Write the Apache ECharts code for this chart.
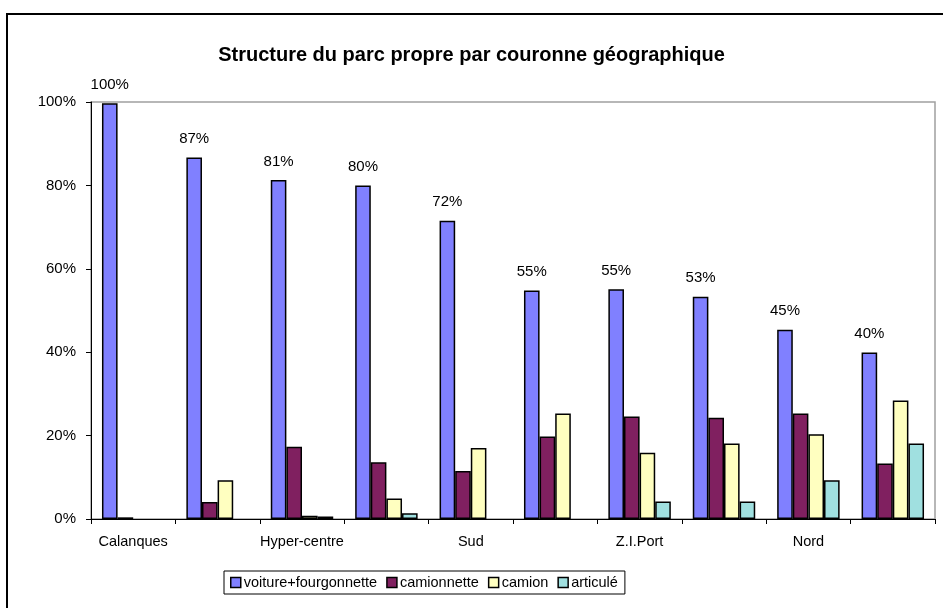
<!DOCTYPE html>
<html>
<head>
<meta charset="utf-8">
<script src="https://cdn.jsdelivr.net/npm/echarts@6/dist/echarts.min.js"></script>
<style>
  html, body { margin: 0; padding: 0; background: #fff; }
  #chart { width: 943px; height: 608px; }
</style>
</head>
<body>
<div id="chart"></div>
<script>
// couronnes (only every other one is labelled on the axis)
const categories = ['Calanques', '', 'Hyper-centre', '', 'Sud', '', 'Z.I.Port', '', 'Nord', '']
const seriesNames = ['voiture+fourgonnette', 'camionnette', 'camion', 'articulé']

// shares in %
const voitureFourgonnette = [99.7, 86.7, 81.3, 80.0, 71.5, 54.8, 55.1, 53.3, 45.4, 39.9]
const camionnette = [0.4, 4.1, 17.3, 13.6, 11.5, 19.8, 24.6, 24.3, 25.3, 13.3]
const camion = [0, 9.3, 0.8, 4.9, 17.0, 25.3, 15.9, 18.1, 20.3, 28.4]
const articule = [0, 0, 0.6, 1.4, 0, 0, 4.2, 4.2, 9.3, 18.1]

const yTicks = [0, 20, 40, 60, 80, 100]

const colors = ['#8080ff', '#802060', '#ffffc0', '#a0e0e0']
const font = 'Arial, "Liberation Sans", sans-serif'

const chart = echarts.init(document.getElementById('chart'))

// zero shares get no bar at all (Excel draws nothing there)
const makeSeries = (name, data, idx) => ({
  name: name,
  type: 'bar',
  data: data.map(v => (v === 0 ? '-' : v)),
  barGap: '0%',
  barCategoryGap: '26%',
  itemStyle: {
    color: colors[idx],
    borderColor: '#000',
    borderWidth: 1.5
  },
  label: {
    show: idx === 0,
    position: 'top',
    distance: 11,
    color: '#000',
    fontFamily: font,
    fontSize: 15,
    formatter: p => Math.round(p.value) + '%'
  }
})

const option = {
  animation: false,
  backgroundColor: '#fff',
  title: {
    text: 'Structure du parc propre par couronne géographique',
    left: 'center',
    top: 40,
    textStyle: {
      fontFamily: font,
      fontSize: 20,
      fontWeight: 'bold',
      color: '#000'
    }
  },
  graphic: [
    {
      type: 'rect',
      shape: { x: 7, y: 14, width: 960, height: 620 },
      style: { fill: 'none', stroke: '#000', lineWidth: 2 },
      silent: true
    }
  ],
  legend: {
    data: seriesNames,
    left: 224,
    top: 571,
    orient: 'horizontal',
    itemWidth: 10,
    itemHeight: 10,
    itemGap: 9,
    icon: 'rect',
    padding: [4, 7, 4, 6],
    borderColor: '#000',
    borderWidth: 1,
    itemStyle: { borderColor: '#000', borderWidth: 1.5 },
    textStyle: {
      fontFamily: font,
      fontSize: 14.5,
      color: '#000',
      padding: [0, 0, 0, -2]
    }
  },
  grid: {
    left: 91,
    right: 8,
    top: 102,
    bottom: 89,
    show: true,
    borderColor: '#a0a0a0',
    borderWidth: 1.5,
    containLabel: false
  },
  xAxis: {
    type: 'category',
    data: categories,
    axisLine: { lineStyle: { color: '#000', width: 1 } },
    axisTick: { show: true, length: 5, lineStyle: { color: '#000' } },
    axisLabel: {
      interval: 0,
      margin: 15,
      color: '#000',
      fontFamily: font,
      fontSize: 14.5
    }
  },
  yAxis: {
    type: 'value',
    min: yTicks[0],
    max: yTicks[yTicks.length - 1],
    interval: yTicks[1] - yTicks[0],
    axisLine: { show: true, lineStyle: { color: '#000', width: 1 } },
    axisTick: { show: true, length: 5, lineStyle: { color: '#000' } },
    splitLine: { show: false },
    axisLabel: {
      margin: 15,
      color: '#000',
      fontFamily: font,
      fontSize: 15,
      formatter: '{value}%'
    }
  },
  series: [
    makeSeries(seriesNames[0], voitureFourgonnette, 0),
    makeSeries(seriesNames[1], camionnette, 1),
    makeSeries(seriesNames[2], camion, 2),
    makeSeries(seriesNames[3], articule, 3)
  ]
}

chart.setOption(option)
</script>
</body>
</html>
